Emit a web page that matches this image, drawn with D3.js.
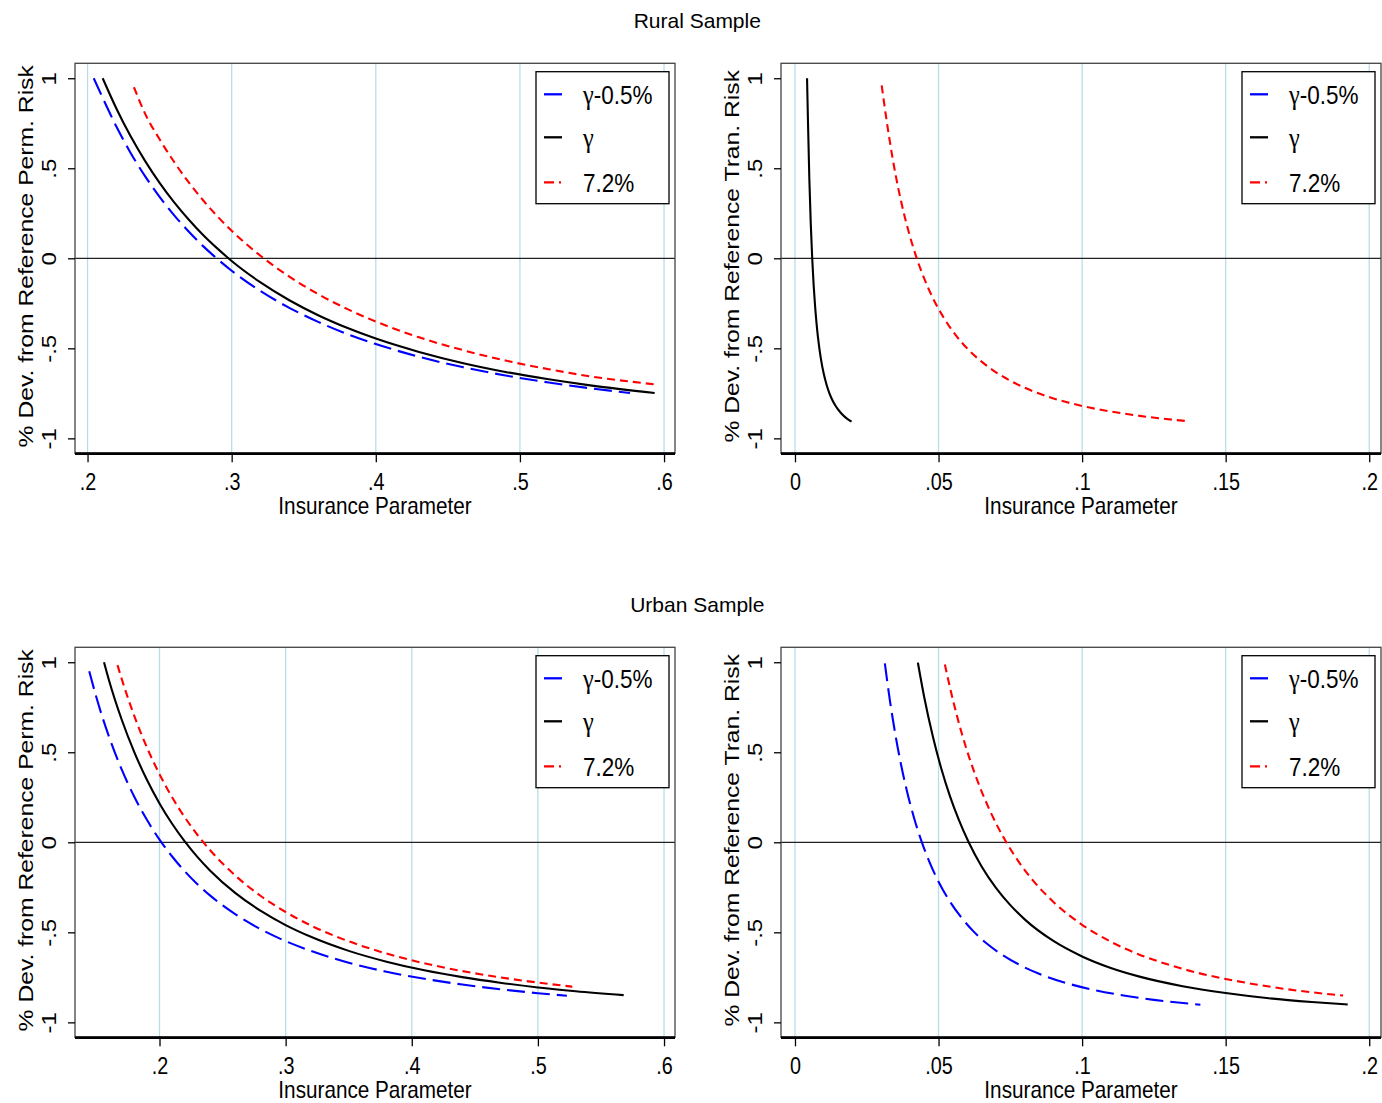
<!DOCTYPE html>
<html>
<head>
<meta charset="utf-8">
<script src="https://cdn.jsdelivr.net/npm/d3@7"></script>
<style>
  body { margin: 0; background: #fff; }
  svg { display: block; }
  text { font-family: "Liberation Sans", Arial, sans-serif; fill: #000; }
  .greek { font-family: "Liberation Serif", "DejaVu Serif", serif; }
</style>
</head>
<body>
<svg width="1382" height="1103"></svg>
<script>
// values: x = insurance parameter, y = % dev. from reference risk
var rpLowX = [0.2043, 0.21, 0.22, 0.23, 0.24, 0.25, 0.26, 0.27, 0.28, 0.29, 0.30, 0.32, 0.34, 0.36, 0.38, 0.40, 0.43, 0.46, 0.49, 0.52, 0.55, 0.5764];
var rpLowY = [1.0, 0.900, 0.732, 0.584, 0.455, 0.341, 0.240, 0.150, 0.069, -0.003, -0.069, -0.182, -0.275, -0.353, -0.420, -0.476, -0.547, -0.604, -0.651, -0.690, -0.723, -0.748];
var rpMidX = [0.2105, 0.22, 0.23, 0.24, 0.25, 0.26, 0.27, 0.28, 0.29, 0.30, 0.32, 0.34, 0.36, 0.38, 0.40, 0.43, 0.46, 0.49, 0.52, 0.55, 0.5935];
var rpMidY = [1.0, 0.832, 0.676, 0.540, 0.419, 0.312, 0.217, 0.131, 0.055, -0.015, -0.134, -0.233, -0.316, -0.386, -0.446, -0.520, -0.581, -0.631, -0.672, -0.707, -0.748];
var rpHighX = [0.2322, 0.24, 0.25, 0.26, 0.27, 0.28, 0.29, 0.30, 0.32, 0.34, 0.36, 0.38, 0.40, 0.43, 0.46, 0.49, 0.52, 0.55, 0.5935];
var rpHighY = [0.95, 0.802, 0.661, 0.536, 0.424, 0.324, 0.234, 0.153, 0.014, -0.102, -0.199, -0.281, -0.351, -0.439, -0.509, -0.568, -0.616, -0.657, -0.700];

var rtMidX = [0.0042, 0.0045, 0.005, 0.0055, 0.006, 0.0065, 0.007, 0.0075, 0.008, 0.009, 0.010, 0.011, 0.012, 0.013, 0.014, 0.016, 0.018, 0.0197];
var rtMidY = [1.0, 0.778, 0.440, 0.190, 0.0, -0.148, -0.265, -0.360, -0.438, -0.556, -0.640, -0.702, -0.750, -0.787, -0.816, -0.859, -0.889, -0.907];
var rtHighX = [0.0302, 0.032, 0.034, 0.036, 0.038, 0.040, 0.0424, 0.045, 0.048, 0.052, 0.056, 0.060, 0.065, 0.070, 0.075, 0.080, 0.090, 0.100, 0.110, 0.120, 0.1358];
var rtHighY = [0.96, 0.756, 0.555, 0.387, 0.245, 0.124, 0.0, -0.112, -0.220, -0.335, -0.427, -0.501, -0.574, -0.633, -0.680, -0.719, -0.778, -0.820, -0.851, -0.875, -0.903];

var upLowX = [0.1443, 0.15, 0.16, 0.17, 0.18, 0.19, 0.20, 0.21, 0.22, 0.24, 0.26, 0.28, 0.30, 0.32, 0.35, 0.38, 0.41, 0.44, 0.47, 0.50, 0.523];
var upLowY = [0.95, 0.804, 0.586, 0.405, 0.253, 0.125, 0.015, -0.079, -0.161, -0.295, -0.399, -0.482, -0.549, -0.603, -0.669, -0.719, -0.758, -0.790, -0.816, -0.838, -0.852];
var upMidX = [0.156, 0.16, 0.17, 0.18, 0.19, 0.20, 0.21, 0.22, 0.23, 0.24, 0.26, 0.28, 0.30, 0.32, 0.35, 0.38, 0.41, 0.44, 0.47, 0.50, 0.53, 0.568];
var upMidY = [1.0, 0.899, 0.682, 0.501, 0.347, 0.216, 0.103, 0.005, -0.081, -0.156, -0.281, -0.380, -0.460, -0.525, -0.603, -0.663, -0.711, -0.749, -0.780, -0.806, -0.827, -0.849];
var upHighX = [0.1667, 0.17, 0.18, 0.19, 0.20, 0.21, 0.22, 0.23, 0.24, 0.26, 0.28, 0.30, 0.32, 0.35, 0.38, 0.41, 0.44, 0.47, 0.50, 0.5273];
var upHighY = [0.984, 0.908, 0.702, 0.527, 0.378, 0.250, 0.139, 0.042, -0.043, -0.184, -0.297, -0.387, -0.462, -0.550, -0.618, -0.672, -0.715, -0.750, -0.779, -0.802];

var utLowX = [0.0313, 0.033, 0.035, 0.037, 0.039, 0.0415, 0.0442, 0.047, 0.050, 0.054, 0.058, 0.062, 0.067, 0.072, 0.078, 0.085, 0.095, 0.105, 0.115, 0.125, 0.1412];
var utLowY = [0.994, 0.794, 0.595, 0.427, 0.284, 0.134, 0.0, -0.116, -0.219, -0.330, -0.419, -0.492, -0.565, -0.623, -0.679, -0.730, -0.784, -0.823, -0.852, -0.875, -0.902];
var utMidX = [0.0428, 0.045, 0.048, 0.051, 0.054, 0.057, 0.0605, 0.065, 0.070, 0.075, 0.080, 0.090, 0.100, 0.110, 0.120, 0.135, 0.150, 0.165, 0.180, 0.1925];
var utMidY = [0.998, 0.807, 0.589, 0.407, 0.255, 0.127, 0.0, -0.134, -0.253, -0.349, -0.428, -0.548, -0.634, -0.698, -0.746, -0.799, -0.837, -0.866, -0.887, -0.901];
var utHighX = [0.0522, 0.055, 0.058, 0.061, 0.064, 0.068, 0.0736, 0.078, 0.083, 0.090, 0.100, 0.110, 0.120, 0.130, 0.140, 0.150, 0.160, 0.170, 0.180, 0.1909];
var utHighY = [0.988, 0.791, 0.610, 0.456, 0.323, 0.172, 0.0, -0.110, -0.214, -0.331, -0.458, -0.552, -0.624, -0.679, -0.724, -0.759, -0.788, -0.813, -0.833, -0.851];

var permTicks = [0.2, 0.3, 0.4, 0.5, 0.6];
var tranTicks = [0, 0.05, 0.1, 0.15, 0.2];
var yTicks = [-1, -0.5, 0, 0.5, 1];
var legendLabels = ["\u03b3-0.5%", "\u03b3", "7.2%"];
var sampleTitles = ["Rural Sample", "Urban Sample"];
var xTitle = "Insurance Parameter";
var permTitle = "% Dev. from Reference Perm. Risk";
var tranTitle = "% Dev. from Reference Tran. Risk";

var svg = d3.select("svg");
var panelW = 600, panelH = 390;

var styles = [
  { color: "#0000ff", dash: "18,7" },
  { color: "#000000", dash: null },
  { color: "#ff0000", dash: "8,5" }
];
var legendDash = [null, null, "10,5,2,10"];

// stata-style labels: .5, -.5, .05
function fmt(d) {
  return String(d).replace("0.", ".");
}

function drawPanel(p) {
  var x = d3.scaleLinear().domain(p.xDomain).range([p.left, p.left + panelW]);
  var y = d3.scaleLinear().domain([-1.083, 1.083]).range([p.top + panelH, p.top]);
  var g = svg.append("g");

  g.selectAll("line.grid")
    .data(p.ticks)
    .enter().append("line")
      .attr("class", "grid")
      .attr("x1", d => x(d)).attr("x2", d => x(d))
      .attr("y1", p.top).attr("y2", p.top + panelH)
      .attr("stroke", "#b9dde8")
      .attr("stroke-width", 1.3);

  g.append("line")
    .attr("x1", p.left).attr("x2", p.left + panelW)
    .attr("y1", y(0)).attr("y2", y(0))
    .attr("stroke", "#222")
    .attr("stroke-width", 1.2);

  var line = d3.line()
    .x(d => x(d[0]))
    .y(d => y(d[1]))
    .curve(d3.curveMonotoneX);

  p.series.forEach(function(s) {
    if (!s) return;
    var st = styles[s.k];
    g.append("path")
      .datum(d3.zip(s.xs, s.ys))
      .attr("d", line)
      .attr("fill", "none")
      .attr("stroke", st.color)
      .attr("stroke-width", 2.1)
      .attr("stroke-dasharray", st.dash);
  });

  g.append("rect")
    .attr("x", p.left).attr("y", p.top)
    .attr("width", panelW).attr("height", panelH)
    .attr("fill", "none")
    .attr("stroke", "#444")
    .attr("stroke-width", 1.3);
  g.append("line")
    .attr("x1", p.left).attr("x2", p.left + panelW)
    .attr("y1", p.top + panelH + 0.3).attr("y2", p.top + panelH + 0.3)
    .attr("stroke", "#000")
    .attr("stroke-width", 2.6);

  var xa = g.append("g")
    .attr("transform", "translate(0," + (p.top + panelH + 1) + ")")
    .call(d3.axisBottom(x).tickValues(p.ticks).tickSize(8).tickFormat(fmt));
  xa.select(".domain").remove();
  xa.selectAll("line").attr("stroke", "#000").attr("stroke-width", 1.3);
  xa.selectAll("text")
    .attr("y", 0).attr("dy", null)
    .attr("transform", "translate(0,36) scale(0.86,1)")
    .style("font-size", "23px");

  var ya = g.append("g")
    .attr("transform", "translate(" + p.left + ",0)")
    .call(d3.axisLeft(y).tickValues(yTicks).tickSize(7).tickFormat(fmt));
  ya.select(".domain").remove();
  ya.selectAll("line").attr("stroke", "#000").attr("stroke-width", 1.3);
  ya.selectAll("text")
    .attr("x", 0).attr("dy", null)
    .attr("text-anchor", "middle")
    .attr("transform", "translate(-19,0) scale(0.85,1) rotate(-90)")
    .style("font-size", "24px");

  g.append("text")
    .attr("transform", "translate(" + (p.left - 42) + "," + (p.top + panelH / 2 - 2) + ") scale(0.85,1) rotate(-90)")
    .attr("text-anchor", "middle")
    .style("font-size", "24.7px")
    .text(p.yTitle);

  g.append("text")
    .attr("transform", "translate(" + (p.left + panelW / 2) + "," + (p.top + panelH + 61) + ") scale(0.9,1)")
    .attr("text-anchor", "middle")
    .style("font-size", "23px")
    .text(xTitle);

  var lg = g.append("g")
    .attr("transform", "translate(" + (p.left + panelW - 139) + "," + (p.top + 8.4) + ")");
  lg.append("rect")
    .attr("width", 133).attr("height", 132)
    .attr("fill", "#fff")
    .attr("stroke", "#000")
    .attr("stroke-width", 1.3);
  var rows = [22.6, 65.6, 110.6];
  legendLabels.forEach(function(lab, i) {
    lg.append("line")
      .attr("x1", 8).attr("x2", 26)
      .attr("y1", rows[i]).attr("y2", rows[i])
      .attr("stroke", styles[i].color)
      .attr("stroke-width", 2.3)
      .attr("stroke-dasharray", legendDash[i]);
    var t = lg.append("text")
      .attr("transform", "translate(47," + (rows[i] + 9.4) + ") scale(0.9,1)")
      .style("font-size", "25px");
    // gamma drawn in a serif face, like the symbol font of the original
    if (lab.charAt(0) === "\u03b3") {
      t.append("tspan").attr("class", "greek").style("font-size", "27px").text("\u03b3");
      t.append("tspan").text(lab.slice(1));
    } else {
      t.text(lab);
    }
  });
}

var panels = [
  { left: 75, top: 63.3, xDomain: [0.1913, 0.6076], ticks: permTicks, yTitle: permTitle,
    series: [{ k: 0, xs: rpLowX, ys: rpLowY }, { k: 1, xs: rpMidX, ys: rpMidY }, { k: 2, xs: rpHighX, ys: rpHighY }] },
  { left: 781, top: 63.3, xDomain: [-0.00487, 0.2041], ticks: tranTicks, yTitle: tranTitle,
    series: [null, { k: 1, xs: rtMidX, ys: rtMidY }, { k: 2, xs: rtHighX, ys: rtHighY }] },
  { left: 75, top: 647.3, xDomain: [0.133, 0.6087], ticks: permTicks, yTitle: permTitle,
    series: [{ k: 0, xs: upLowX, ys: upLowY }, { k: 1, xs: upMidX, ys: upMidY }, { k: 2, xs: upHighX, ys: upHighY }] },
  { left: 781, top: 647.3, xDomain: [-0.00487, 0.2041], ticks: tranTicks, yTitle: tranTitle,
    series: [{ k: 0, xs: utLowX, ys: utLowY }, { k: 1, xs: utMidX, ys: utMidY }, { k: 2, xs: utHighX, ys: utHighY }] }
];
panels.forEach(drawPanel);

svg.selectAll("text.title")
  .data(sampleTitles)
  .enter().append("text")
    .attr("class", "title")
    .attr("x", 697.3)
    .attr("y", (d, i) => 27.5 + i * 584)
    .attr("text-anchor", "middle")
    .style("font-size", "21px")
    .text(d => d);
</script>
</body>
</html>
